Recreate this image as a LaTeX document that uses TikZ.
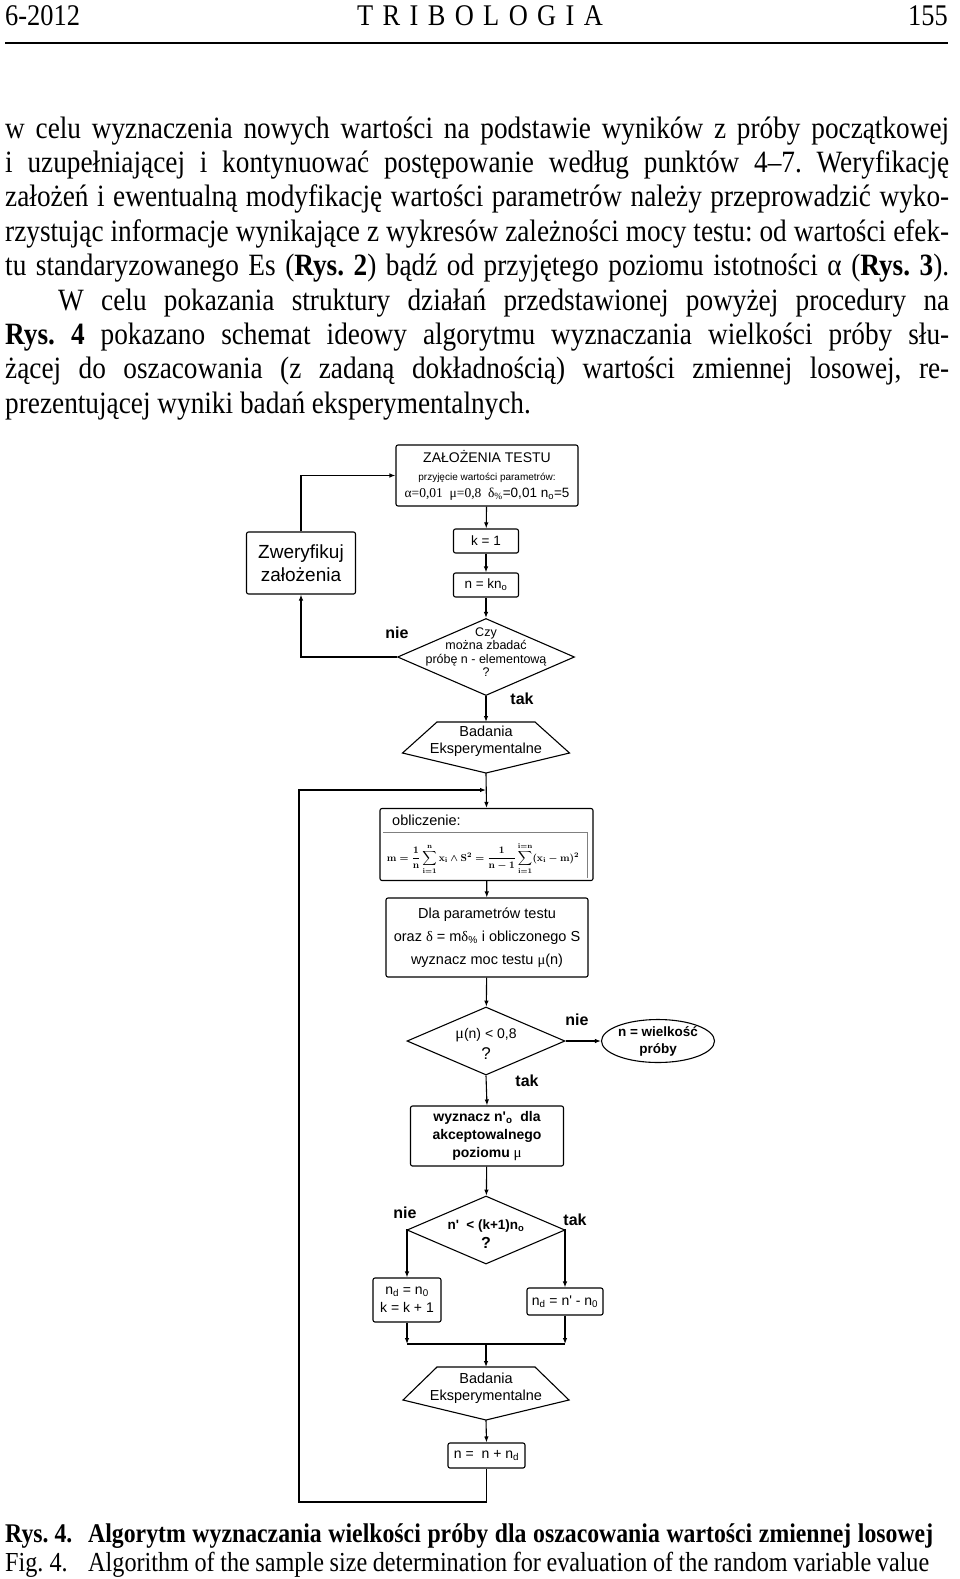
\documentclass[tikz,border=0pt]{standalone}
\usepackage{fontspec}
\setmainfont{Liberation Serif}[FakeStretch=0.88]
\newfontfamily\flowfont{Liberation Sans}
\newfontfamily\grfont{Liberation Serif}
\usetikzlibrary{shapes.geometric,arrows.meta}
\frenchspacing
\newcommand{\wzorobl}{\ensuremath{\displaystyle \mathbf{m}=\frac{\mathbf{1}}{\mathbf{n}}\sum_{\mathbf{i=1}}^{\mathbf{n}}\mathbf{x}_{\mathbf{i}}\wedge \mathbf{S}^{\mathbf{2}}=\frac{\mathbf{1}}{\mathbf{n}-\mathbf{1}}\sum_{\mathbf{i=1}}^{\mathbf{i=n}}(\mathbf{x}_{\mathbf{i}}-\mathbf{m})^{\mathbf{2}}}}

\begin{document}
\begin{tikzpicture}[x=1pt,y=-1pt,
  every node/.style={inner sep=0pt},
  flow/.style={font=\flowfont\fontsize{14.5}{17}\selectfont, align=center},
  box/.style={flow, draw, line width=1.1pt, rounded corners=2pt},
  decision/.style={diamond, draw, line width=1.1pt},
  lab/.style={font=\flowfont\bfseries\fontsize{16}{16}\selectfont},
  arr/.style={line width=1.1pt, -{Latex[length=6pt,width=4.5pt]}},
  link/.style={line width=1.1pt}]
\fill[white] (0,0) rectangle (960,1579);
\useasboundingbox (0,0) rectangle (960,1579);

% page header
\node[anchor=base west, font=\fontsize{30}{30}\selectfont] (rok) at (5,26) {6-2012};
\node[anchor=base, font=\fontsize{30}{30}\selectfont] (tytul) at (480,26) {\makebox[246pt][s]{T R I B O L O G I A}};
\node[anchor=base east, font=\fontsize{30}{30}\selectfont] (strona) at (948,26) {155};
\draw[line width=2pt] (5,43) -- (948,43);

% text above the figure
\node[anchor=base west] (tekst) at (5,138) {\parbox[t]{944pt}{\fontsize{31}{34.4}\selectfont
\makebox[944pt][s]{w celu wyznaczenia nowych wartości na podstawie wyników z próby początkowej}\par
\makebox[944pt][s]{i uzupełniającej i kontynuować postępowanie według punktów 4–7. Weryfikację}\par
\makebox[944pt][s]{założeń i ewentualną modyfikację wartości parametrów należy przeprowadzić wyko-}\par
\makebox[944pt][s]{rzystując informacje wynikające z wykresów zależności mocy testu: od wartości efek-}\par
\makebox[944pt][s]{tu standaryzowanego Es (\textbf{Rys. 2}) bądź od przyjętego poziomu istotności α (\textbf{Rys. 3}).}\par
\makebox[944pt][s]{\hspace*{53pt}W celu pokazania struktury działań przedstawionej powyżej procedury na}\par
\makebox[944pt][s]{\textbf{Rys. 4} pokazano schemat ideowy algorytmu wyznaczania wielkości próby słu-}\par
\makebox[944pt][s]{żącej do oszacowania (z zadaną dokładnością) wartości zmiennej losowej, re-}\par
prezentującej wyniki badań eksperymentalnych.}};

% flowchart
\node[box, minimum width=182, minimum height=61, font=\flowfont\fontsize{14}{17.5}\selectfont] (zal) at (487,475.5)
  {ZAŁOŻENIA TESTU\\{\fontsize{10}{12}\selectfont przyjęcie wartości parametrów:}\\
   {\fontsize{13.5}{14}\selectfont{\grfont α=0,01\ \ μ=0,8\ \ δ\textsubscript{\%}}=0,01 n\textsubscript{o}=5}};
\node[box, minimum width=65, minimum height=24, font=\flowfont\fontsize{13.5}{15}\selectfont] (k1) at (486,541) {k = 1};
\node[box, minimum width=65, minimum height=24, font=\flowfont\fontsize{13.5}{15}\selectfont] (nkn) at (486,585) {n = kn\textsubscript{o}};
\node[box, minimum width=109, minimum height=62, font=\flowfont\fontsize{19}{23}\selectfont] (zwer) at (301,563) {Zweryfikuj\\założenia};

\node[decision, minimum width=177, minimum height=77] (czy) at (486,657) {};
\node[flow, font=\flowfont\fontsize{12.5}{13.5}\selectfont] (czytxt) at (486,652) {Czy\\można zbadać\\próbę n - elementową\\?};
\node[lab] (nie1) at (397,633) {nie};
\node[lab] (tak1) at (522,699) {tak};

\draw[link] (437,722) -- (535,722) -- (569.5,753) -- (486,773) -- (402.5,753) -- cycle;
\node[flow] (bad1) at (486,741.5) {Badania\\Eksperymentalne};
\coordinate (bad1top) at (486,722);
\coordinate (bad1bot) at (486,773);
\coordinate (merge) at (486,790);

\node[box, minimum width=213, minimum height=72] (obl) at (486.5,844.5) {};
\node[flow, anchor=west] (obltxt) at (392,820) {obliczenie:};
\draw[gray, line width=0.8pt] (383,832) -- (587,832) -- (587,878);
\node[font=\fontsize{9.8}{11}\selectfont\boldmath] (wzor) at (483,858.5) {\wzorobl};

\node[box, minimum width=202, minimum height=79, font=\flowfont\fontsize{14.5}{23}\selectfont] (dla) at (487,937.5)
  {Dla parametrów testu\\oraz {\grfont δ} = m{\grfont δ}\textsubscript{\%} i obliczonego S\\wyznacz moc testu {\grfont μ}(n)};

\node[decision, minimum width=158, minimum height=68] (mu) at (486,1041) {};
\node[flow, font=\flowfont\fontsize{14}{21}\selectfont] (mutxt) at (486,1044) {{\grfont\fontsize{16}{16}\selectfont μ}(n) < 0,8\\{\fontsize{17}{17}\selectfont ?}};
\node[lab] (nie2) at (577,1020) {nie};
\node[lab] (tak2) at (527,1081) {tak};
\node[ellipse, draw, line width=1.1pt, minimum width=113, minimum height=43, flow,
  font=\flowfont\bfseries\fontsize{13.5}{17}\selectfont] (wynik) at (658,1041) {n = wielkość\\próby};

\node[box, minimum width=153, minimum height=60, font=\flowfont\bfseries\fontsize{14}{18}\selectfont] (wyz) at (487,1136)
  {wyznacz n'\textsubscript{o}\ \ dla\\akceptowalnego\\poziomu {\grfont\mdseries\fontsize{15}{15}\selectfont μ}};

\node[decision, minimum width=158, minimum height=68] (ncmp) at (486,1230) {};
\node[flow, font=\flowfont\bfseries\fontsize{13.5}{19}\selectfont] (ncmptxt) at (486,1234) {n'\ \ < (k+1)n\textsubscript{o}\\{\fontsize{16}{16}\selectfont ?}};
\node[lab] (nie3) at (405,1213) {nie};
\node[lab] (tak3) at (575,1220) {tak};

\node[box, minimum width=68, minimum height=44, font=\flowfont\fontsize{14}{18}\selectfont] (nd1) at (407,1300)
  {n\textsubscript{d} = n\textsubscript{0}\\k = k + 1};
\node[box, minimum width=76, minimum height=27, font=\flowfont\fontsize{14}{18}\selectfont] (nd2) at (565,1301.5)
  {n\textsubscript{d} = n' - n\textsubscript{0}};
\coordinate (join) at (486,1344);

\draw[link] (437,1367) -- (535,1367) -- (569,1400) -- (486,1420) -- (403,1400) -- cycle;
\node[flow] (bad2) at (486,1388.5) {Badania\\Eksperymentalne};
\coordinate (bad2top) at (486,1367);
\coordinate (bad2bot) at (486,1420);

\node[box, minimum width=77, minimum height=25, font=\flowfont\fontsize{14}{18}\selectfont] (nnd) at (486.5,1455.5)
  {n =\ \ n + n\textsubscript{d}};
\coordinate (loopl) at (299,1502);

% connectors
\draw[arr] (zal) -- (k1);
\draw[arr] (k1) -- (nkn);
\draw[arr] (nkn) -- (czy);
\draw[arr] (czy.west) -| (zwer.south);
\draw[arr] (zwer.north) |- (zal.west);
\draw[arr] (czy.south) -- (bad1top);
\draw[arr] (bad1bot) -- (obl.north);
\draw[arr] (nnd.south) |- (loopl) |- (merge);
\draw[arr] (obl) -- (dla);
\draw[arr] (dla) -- (mu);
\draw[arr] (mu.east) -- (wynik.west);
\draw[arr] (mu.south) -- (wyz.north);
\draw[arr] (wyz) -- (ncmp);
\draw[arr] (ncmp.west) -| (nd1.north);
\draw[arr] (ncmp.east) -| (nd2.north);
\draw[arr] (nd1.south) -- (nd1.south |- join);
\draw[arr] (nd2.south) -- (nd2.south |- join);
\draw[link] (nd1.south |- join) -- (nd2.south |- join);
\draw[arr] (join) -- (bad2top);
\draw[arr] (bad2bot) -- (nnd.north);

% caption
\node[anchor=base west, font=\bfseries\fontsize{27}{27}\selectfont] (rys) at (5,1542) {Rys. 4.};
\node[anchor=base west, font=\bfseries\fontsize{27}{27}\selectfont] (rystxt) at (88,1542)
  {\makebox[845pt][s]{Algorytm wyznaczania wielkości próby dla oszacowania wartości zmiennej losowej}};
\node[anchor=base west, font=\fontsize{27.5}{27.5}\selectfont] (fig) at (5,1571) {Fig. 4.};
\node[anchor=base west, font=\fontsize{27.5}{27.5}\selectfont] (figtxt) at (88,1571)
  {\makebox[841pt][s]{Algorithm of the sample size determination for evaluation of the random variable value}};
\end{tikzpicture}
\end{document}
